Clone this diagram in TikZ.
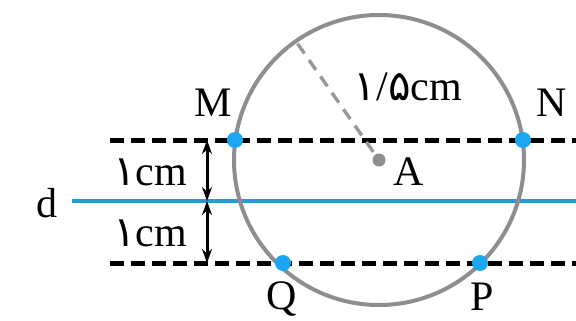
\documentclass[tikz,border=0pt]{standalone}
\usepackage{fontspec}
\setmainfont{Liberation Serif}
\newfontfamily\arabicfont[Script=Arabic]{DejaVu Sans}
\usetikzlibrary{arrows.meta, positioning, calc}
\definecolor{dblue}{HTML}{1E9FD8}
\definecolor{pblue}{HTML}{1AA6F0}
\definecolor{cgray}{HTML}{8E8E8E}

\begin{document}
\begin{tikzpicture}[
			x=1pt, y=-1pt,
			every node/.style={font=\fontsize{42}{46}\selectfont, inner sep=0pt},
			dashline/.style={draw=black, line width=5pt, dash pattern=on 14pt off 7pt},
			dimline/.style={draw=black, line width=3pt, {Stealth[length=14pt,width=10pt]}-{Stealth[length=14pt,width=10pt]}},
			pt/.style={circle, fill=pblue, inner sep=0pt, minimum size=16pt}
			]
			\useasboundingbox (0,0) rectangle (576,321);
			\coordinate (A) at (379,160);
			% parallel lines
			\coordinate (t1) at (110,140); \coordinate (t2) at (576,140);
			\coordinate (b1) at (110,263); \coordinate (b2) at (576,263);
			\coordinate (d1) at (72,201); \coordinate (d2) at (576,201);
			\draw[dashline] (t1) -- (t2);
			\draw[dashline] (b1) -- (b2);
			\draw[dblue, line width=4pt] (d1) -- (d2);
			\node (d) at (47,203) {d};
			% circle and radius
			\draw[cgray, line width=4pt] (A) circle[radius=145pt];
			\coordinate (R) at ($(A)+(125:145pt)$);
			\draw[cgray!90, line width=3.4pt, dash pattern=on 12pt off 8pt] ($(A)!10pt!(R)$) -- (R);
			\fill[cgray] (A) circle[radius=6.5pt];
			\node (lA) at (409,172) {A};
			\node (lr) at (408,87) {{\arabicfont ١}/{\arabicfont ۵}cm};
			% distances
			\coordinate (m1) at (207,140); \coordinate (m2) at (207,201); \coordinate (m3) at (207,263);
			\draw[dimline] (m1) -- (m2);
			\draw[dimline] (m2) -- (m3);
			\node (l1) at (150,172) {{\arabicfont ١}cm};
			\node (l2) at (150,233) {{\arabicfont ١}cm};
			% intersection points
			\node[pt] (M) at (235,140) {};
			\node[pt] (N) at (523,140) {};
			\node[pt] (Q) at (283,263) {};
			\node[pt] (P) at (480,263) {};
			\node[above left=18pt and -3pt of M] {M};
			\node[above right=18pt and 7pt of N] {N};
			\node[below left=13pt and -20pt of Q] {Q};
			\node[below right=14pt and -16pt of P] {P};
		\end{tikzpicture}
\end{document}
